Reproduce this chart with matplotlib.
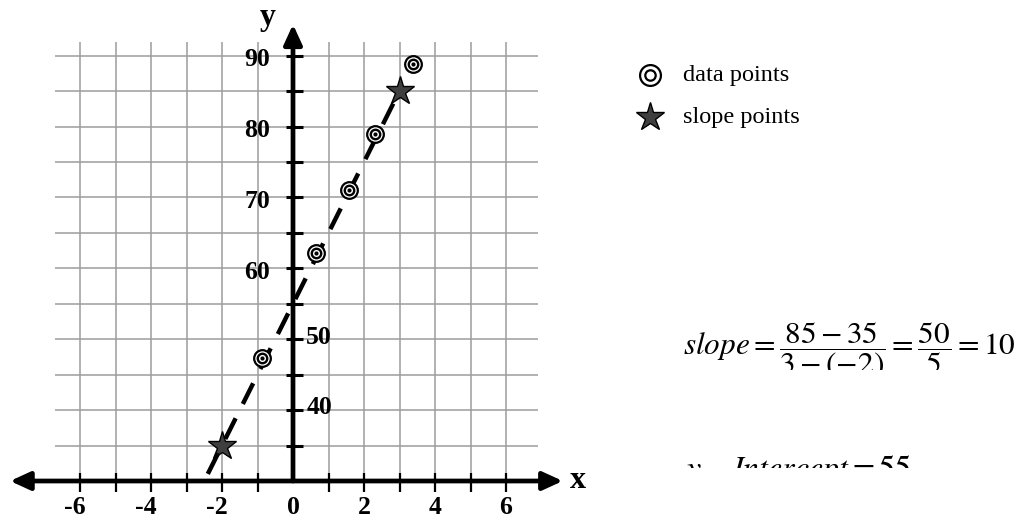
import numpy as np
import matplotlib
matplotlib.use("Agg")
import matplotlib.pyplot as plt
from matplotlib.lines import Line2D
from matplotlib.transforms import Bbox, TransformedBbox

plt.rcParams["mathtext.fontset"] = "stix"
SERIF = "Liberation Serif"

# Observations and the two points used for the slope
data_x = [-0.88, 0.65, 1.58, 2.31, 3.38]
data_y = [47.3, 62.2, 71.0, 78.9, 88.8]
slope_x = [-2, 3]
slope_y = [35, 85]

# Axis ticks and labels
x_ticks = list(range(-6, 7))
x_label_vals = [-6, -4, -2, 0, 2, 4, 6]
y_ticks = list(range(35, 95, 5))
y_label_left = [90, 80, 70, 60]
y_label_right = [50, 40]

W, H = 1020, 517
fig = plt.figure(figsize=(W / 100, H / 100), dpi=100)
ax = fig.add_axes([0, 0, 1, 1])
ax.axis("off")

# pixel geometry of the coordinate frame
x_unit, x0_px = 35.5, 293.0
y_unit, y0_px = 7.09, 481.0
y_base = 30
ax.set_xlim(-x0_px / x_unit, (W - x0_px) / x_unit)
ax.set_ylim(y_base - (H - y0_px) / y_unit, y_base + y0_px / y_unit)


def fx(px):
    return px / W


def fy(py):
    return 1 - py / H


grid_col = "#9c9c9c"
# grid
gx_lo, gx_hi = -6.7, 6.9
gy_top = 91.9
ax.hlines(y_ticks, gx_lo, gx_hi, color=grid_col, lw=1.1, zorder=1)
ax.vlines([t for t in x_ticks if t != 0], y_base, gy_top, color=grid_col, lw=1.1, zorder=1)

# axes with arrows
ax.annotate("", xy=(7.6, y_base), xytext=(-7.97, y_base),
            arrowprops=dict(arrowstyle="<|-|>,head_length=1.2,head_width=0.55",
                            lw=3.4, color="black", shrinkA=0, shrinkB=0), zorder=3)
ax.annotate("", xy=(0, 94.4), xytext=(0, y_base),
            arrowprops=dict(arrowstyle="-|>,head_length=1.2,head_width=0.55",
                            lw=3.4, color="black", shrinkA=0, shrinkB=0), zorder=3)

# tick marks
ax.vlines([t for t in x_ticks if t != 0], y_base - 1.55, y_base + 1.15, color="black", lw=1.6, zorder=3)
ax.hlines([t for t in y_ticks], -0.2, 0.29, color="black", lw=2.2, zorder=3)

lab_kw = dict(fontfamily=SERIF, fontweight="bold", fontsize=18.5, color="black")
for v in x_label_vals:
    off = -0.15 if v < 0 else 0.0
    ax.text(v + off, y_base - 26 / y_unit, str(v), ha="center", va="center", **lab_kw)
for v in y_label_left:
    ax.text(-0.65, v - 0.6, str(v), ha="right", va="center", **lab_kw)
for v in y_label_right:
    ax.text(0.37, v + 0.3, str(v), ha="left", va="center", **lab_kw)

ax.text((578 - x0_px) / x_unit, y_base, "x",
        ha="center", va="center", fontfamily=SERIF, fontweight="bold", fontsize=23)
ax.text(-0.7, y_base + (y0_px - 18) / y_unit, "y", ha="center", va="center",
        fontfamily=SERIF, fontweight="bold", fontsize=23)

# fitted line through the slope points
m = (slope_y[1] - slope_y[0]) / (slope_x[1] - slope_x[0])
b = slope_y[0] - m * slope_x[0]
x_start = (31 - b) / m
lx = np.array([x_start, slope_x[1]])
ax.plot(slope_x, slope_y, ls="none", marker="*", ms=21, mfc="#3f3f3f", mec="black", mew=1.0, zorder=4)
ax.plot(lx, m * lx + b, color="black", lw=3.2, dashes=(5.2, 3.6), solid_capstyle="butt",
        dash_capstyle="butt", zorder=5)

# bullseye data markers
ax.plot(data_x, data_y, ls="none", marker="o", ms=12, mfc="white", mec="black", mew=1.6, zorder=6)
ax.plot(data_x, data_y, ls="none", marker="o", ms=6.8, mfc="white", mec="black", mew=1.7, zorder=7)
ax.plot(data_x, data_y, ls="none", marker="o", ms=3.0, mfc="black", mec="black", mew=0, zorder=8)

# legend
leg_x = fx(650)
fig.add_artist(Line2D([leg_x], [fy(75)], transform=fig.transFigure, ls="none", marker="o",
                      ms=15, mfc="white", mec="black", mew=1.6))
fig.add_artist(Line2D([leg_x], [fy(75)], transform=fig.transFigure, ls="none", marker="o",
                      ms=7.5, mfc="white", mec="black", mew=1.6))
fig.add_artist(Line2D([leg_x], [fy(117)], transform=fig.transFigure, ls="none", marker="*",
                      ms=21, mfc="#3f3f3f", mec="black", mew=1.0))
fig.text(fx(683), fy(75), "data points", fontfamily=SERIF, fontsize=17.5, va="center", ha="left")
fig.text(fx(683), fy(117), "slope points", fontfamily=SERIF, fontsize=17.5, va="center", ha="left")

# worked equations, cut off at the lower edge of their boxes
eq1 = fig.text(fx(683), fy(355),
               r"$\mathit{slope}=\dfrac{85-35}{3-(-2)}=\dfrac{50}{5}=10$",
               fontsize=22.5, ha="left", va="baseline", clip_on=True)
eq1.set_clip_box(TransformedBbox(Bbox.from_extents(0, fy(370), 1, 1), fig.transFigure))

eq2 = fig.text(fx(686), fy(478), r"$y-\mathit{Intercept}=55$",
               fontsize=23, ha="left", va="baseline", clip_on=True)
eq2.set_clip_box(TransformedBbox(Bbox.from_extents(0, fy(468), 1, 1), fig.transFigure))

fig.savefig("out.png", dpi=100)
